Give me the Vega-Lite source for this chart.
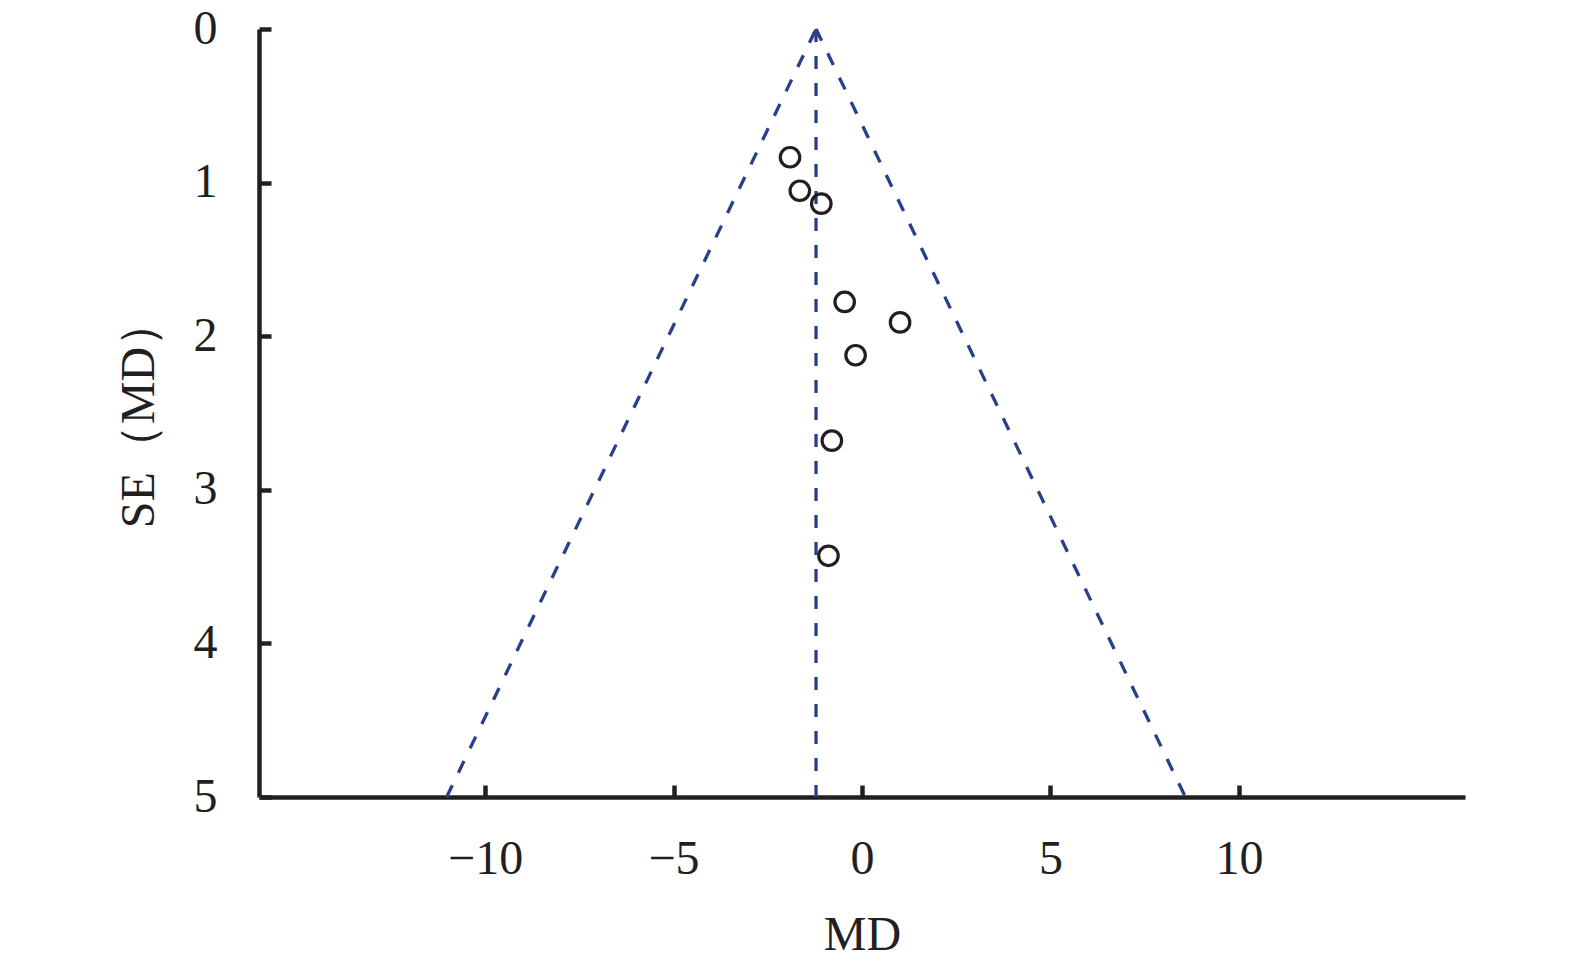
{
  "$schema": "https://vega.github.io/schema/vega-lite/v6.json",
  "width": 1206,
  "height": 768,
  "autosize": "none",
  "padding": {"left": 259, "top": 29, "right": 110, "bottom": 173},
  "background": "white",
  "config": {
    "view": {"stroke": null},
    "font": "Liberation Serif",
    "axis": {
      "grid": false,
      "domainColor": "#231f20",
      "domainWidth": 4.5,
      "tickColor": "#231f20",
      "tickWidth": 4.5,
      "tickSize": -12,
      "labelFont": "Liberation Serif",
      "labelFontSize": 48,
      "labelColor": "#231f20",
      "titleFont": "Liberation Serif",
      "titleFontSize": 48,
      "titleFontWeight": "normal",
      "titleColor": "#231f20"
    }
  },
  "datasets": {
    "funnel": [
      {"md": -1.22, "se": 0, "line": "left"},
      {"md": -11.02, "se": 5, "line": "left"},
      {"md": -1.22, "se": 0, "line": "right"},
      {"md": 8.58, "se": 5, "line": "right"},
      {"md": -1.22, "se": 0, "line": "center"},
      {"md": -1.22, "se": 5, "line": "center"}
    ],
    "studies": [
      {"md": -1.91, "se": 0.835},
      {"md": -1.65, "se": 1.053},
      {"md": -1.08, "se": 1.137},
      {"md": -0.46, "se": 1.777},
      {"md": 1.01, "se": 1.91},
      {"md": -0.17, "se": 2.124},
      {"md": -0.80, "se": 2.68},
      {"md": -0.89, "se": 3.43}
    ]
  },
  "layer": [
    {
      "data": {"name": "funnel"},
      "mark": {"type": "line", "color": "#293f8a", "strokeWidth": 3.3, "strokeDash": [13, 14]},
      "encoding": {
        "x": {
          "field": "md", "type": "quantitative",
          "scale": {"domain": [-16, 16], "nice": false, "zero": false},
          "axis": {"values": [-10, -5, 0, 5, 10], "title": "MD", "labelPadding": 50, "titlePadding": 28,
                   "labelExpr": "replace(datum.label, '-', '−')"}
        },
        "y": {
          "field": "se", "type": "quantitative",
          "scale": {"domain": [0, 5], "reverse": true, "nice": false},
          "axis": {"values": [0, 1, 2, 3, 4, 5], "format": "d", "title": "SE（MD）", "labelPadding": 54, "titlePadding": 30}
        },
        "detail": {"field": "line"}
      }
    },
    {
      "data": {"name": "studies"},
      "mark": {"type": "point", "shape": "circle", "filled": false, "stroke": "#231f20", "strokeWidth": 3.2, "size": 380, "opacity": 1},
      "encoding": {
        "x": {"field": "md", "type": "quantitative"},
        "y": {"field": "se", "type": "quantitative"}
      }
    }
  ]
}
